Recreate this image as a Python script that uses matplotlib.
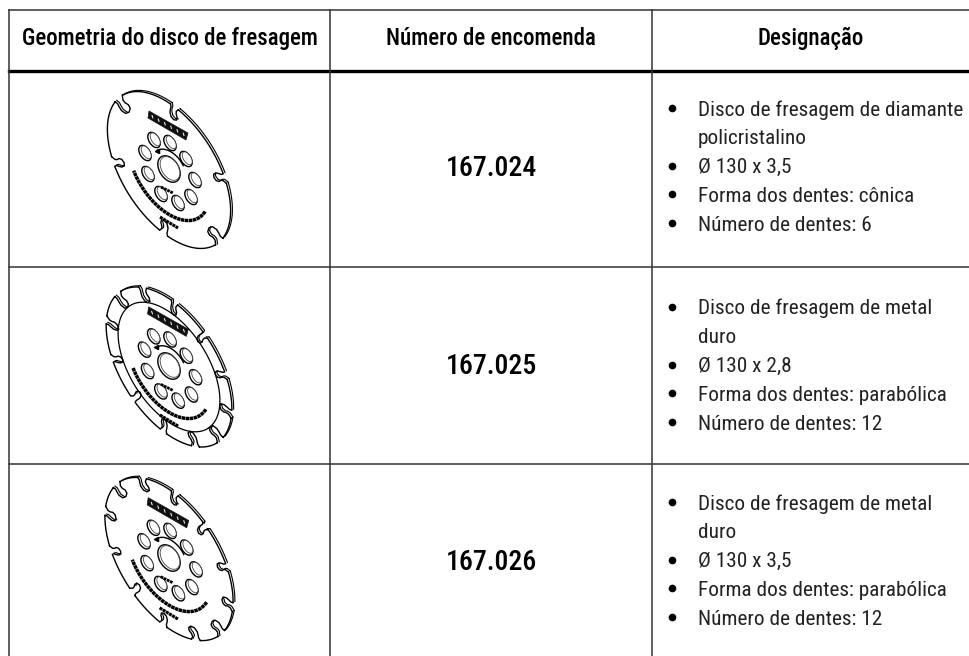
#!/usr/bin/env python3
import numpy as np
import matplotlib
matplotlib.use('Agg')
import matplotlib.pyplot as plt
from matplotlib.patches import Ellipse, Polygon

## Table content
headers = ['Geometria do disco de fresagem', 'Número de encomenda', 'Designação']
order_numbers = ['167.024', '167.025', '167.026']
designations = [
    ['Disco de fresagem de diamante\npolicristalino', 'Ø 130 x 3,5',
     'Forma dos dentes: cônica', 'Número de dentes: 6'],
    ['Disco de fresagem de metal\nduro', 'Ø 130 x 2,8',
     'Forma dos dentes: parabólica', 'Número de dentes: 12'],
    ['Disco de fresagem de metal\nduro', 'Ø 130 x 3,5',
     'Forma dos dentes: parabólica', 'Número de dentes: 12'],
]

## Layout, in pixels of the 970x656 picture
col_x = [9.5, 330.5, 652.5]
top_y = 10
header_y = 70.5
row_lines = [267, 464]
header_baseline = 45
number_baseline = [176, 374, 570]
first_line_y = [108, 307, 502]
line_step = 28.8
baseline_drop = 7.5
line_color = '#333333'
font = ['Roboto Condensed', 'Liberation Sans', 'DejaVu Sans']

## Disc drawings: (center x, center y, scale, number of notches, first
## notch angle, notch depth, notch half width, inner ring radius)
discs = [
    (169, 170, 1.00, 6, -125, 0.20, 5.0, None),
    (169, 367, 1.02, 12, -125, 0.19, 4.0, 0.81),
    (169, 559, 1.04, 12, -125, 0.17, 4.5, None),
]
semi_major = 88
semi_minor = 47
tilt = np.deg2rad(57.6)
u = np.array([np.cos(tilt), np.sin(tilt)])
v = np.array([-np.sin(tilt), np.cos(tilt)])
hole_offsets = [(-15, -30), (1, -27), (17, -11), (26, 10), (22, 27),
                (9, 33), (-8, 24), (-21, 4), (-24, -17)]
# Hooked notch: across the slot (-1..1), into the disc (0..1)
notch_across = np.array([-1, -.8, -.9, -.95, -.6, .1, .75, .85, .55, .5, .8, 1])
notch_into = np.array([0, .2, .4, .65, .92, 1, .88, .65, .45, .25, .1, 0])

fig = plt.figure(figsize=(9.7, 6.56), dpi=100)
ax = fig.add_axes([0, 0, 1, 1])
ax.set_xlim(0, 970)
ax.set_ylim(656, 0)
ax.axis('off')

def to_pixels(cx, cy, scale, q_u, q_v):
    # Disc coordinates (unit circle) to picture coordinates
    q_u = np.asarray(q_u) * semi_major * scale
    q_v = np.asarray(q_v) * semi_minor * scale
    return cx + q_u * u[0] + q_v * v[0], cy + q_u * u[1] + q_v * v[1]

def outline(cx, cy, scale, n_notches, first_angle, depth, half_width):
    # Rim of the disc with notches cut into it, in picture coordinates
    xs, ys = [], []
    step = 2 * np.pi / n_notches
    for i in range(n_notches):
        t0 = np.deg2rad(first_angle) + i * step
        t1 = t0 + step
        qx, qy = to_pixels(cx, cy, scale, np.cos(t1), np.sin(t1))
        # Half width of the slot as an angle, from the local rim speed
        speed0 = np.hypot(semi_major * np.sin(t0), semi_minor * np.cos(t0)) * scale
        speed1 = np.hypot(semi_major * np.sin(t1), semi_minor * np.cos(t1)) * scale
        t_rim = np.linspace(t0 + half_width / speed0, t1 - half_width / speed1, 40)
        x_rim, y_rim = to_pixels(cx, cy, scale, np.cos(t_rim), np.sin(t_rim))
        xs += list(x_rim)
        ys += list(y_rim)
        # The slot at the end of this tooth
        radius = np.hypot(qx - cx, qy - cy)
        nx, ny = (cx - qx) / radius, (cy - qy) / radius
        tx = -semi_major * np.sin(t1) * u[0] + semi_minor * np.cos(t1) * v[0]
        ty = -semi_major * np.sin(t1) * u[1] + semi_minor * np.cos(t1) * v[1]
        tx, ty = tx / np.hypot(tx, ty), ty / np.hypot(tx, ty)
        d = max(depth * radius, 10)
        xs += list(qx + notch_across * half_width * tx + notch_into * d * nx)
        ys += list(qy + notch_across * half_width * ty + notch_into * d * ny)
    return np.array(xs + xs[:1]), np.array(ys + ys[:1])

def draw_disc(cx, cy, scale, n_notches, first_angle, depth, half_width, ring):
    x, y = outline(cx, cy, scale, n_notches, first_angle, depth, half_width)
    ax.plot(x, y, color='black', lw=1.0, solid_joinstyle='round')
    # Thickness of the blade: same rim, shifted, only on the far side
    dx, dy = 1.8, -1.2
    nx = np.gradient(y)
    ny = -np.gradient(x)
    if (nx * (x - cx) + ny * (y - cy)).sum() < 0:
        nx, ny = -nx, -ny
    keep = nx * dx + ny * dy > 0
    ax.plot(np.where(keep, x + dx, np.nan), np.where(keep, y + dy, np.nan),
            color='black', lw=0.8)
    if ring is not None:
        t = np.linspace(0, 2 * np.pi, 200)
        xr, yr = to_pixels(cx, cy, scale, ring * np.cos(t), ring * np.sin(t))
        ax.plot(xr, yr, color='black', lw=0.9)
    angle = np.rad2deg(tilt)
    # Cooling holes
    for ox, oy in hole_offsets:
        hx, hy = cx + ox * scale, cy + oy * scale
        ax.add_patch(Ellipse((hx, hy), 17, 10, angle=angle, fc='white',
                             ec='black', lw=1.0))
        ax.add_patch(Ellipse((hx + 1.2, hy - 0.7), 14.5, 7.5, angle=angle,
                             fc='white', ec='#444444', lw=0.6))
    # Center bore with its rotation arrow
    ax.add_patch(Ellipse((cx, cy - 1), 29, 19, angle=angle, fc='white',
                         ec='black', lw=1.0))
    ax.add_patch(Ellipse((cx + 1, cy - 1.5), 26, 16.5, angle=angle,
                         fc='white', ec='#444444', lw=0.6))
    t = np.deg2rad(np.linspace(-180, -80, 30))
    xa, ya = to_pixels(cx, cy, scale, 0.26 * np.cos(t), 0.31 * np.sin(t))
    ax.plot(xa, ya, color='black', lw=1.0)
    ax.plot(xa[0], ya[0], marker='<', ms=3, color='black')
    # Dark label band with light marks
    corners = [(-20, -59), (19, -37), (17, -30), (-21, -52)]
    band = [(cx + a * scale, cy + b * scale) for a, b in corners]
    ax.add_patch(Polygon(band, fc='#111111', ec='#111111', lw=0.5))
    for f in np.linspace(0.1, 0.9, 6):
        mx = cx + (-20.5 + 39 * f) * scale
        my = cy + (-55.5 + 22 * f) * scale
        ax.plot([mx - 0.4, mx + 0.4], [my - 1.2, my + 1.2],
                color='white', lw=0.7)
    # Printed lettering on the blade, too small to read
    t = np.deg2rad(np.linspace(-15, 109, 60))
    xt, yt = to_pixels(cx, cy, scale, 0.64 * np.cos(t), 0.68 * np.sin(t))
    ax.plot(xt, yt, color='black', lw=2.5, ls=(0, (1.0, 0.15)))
    ax.plot([cx - 9 * scale, cx + 9 * scale],
            [cy + 47 * scale, cy + 58 * scale],
            color='black', lw=2.2, ls=(0, (1.0, 0.2)))
    ax.plot([cx - 8 * scale, cx + 4 * scale],
            [cy + 17 * scale, cy + 23 * scale],
            color='black', lw=2.0, ls=(0, (1.0, 0.25)))

## Table grid
ax.plot([col_x[0], 970], [top_y, top_y], color=line_color, lw=1.1)
ax.plot([col_x[0], 970], [header_y, header_y], color='black', lw=2.4)
for y in row_lines:
    ax.plot([col_x[0], 970], [y, y], color=line_color, lw=1.1)
for x in col_x:
    ax.plot([x, x], [top_y, 656], color=line_color, lw=1.1)

## Header row
centers = [170, 491, 811]
for x, label in zip(centers, headers):
    ax.text(x, header_baseline, label, family=font, fontsize=16.5,
            fontweight=500, ha='center', va='baseline', color='black')

## Body rows
for i in range(3):
    draw_disc(*discs[i])
    ax.text(491, number_baseline[i], order_numbers[i], family=font, fontsize=20,
            fontweight=500, ha='center', va='baseline', color='black')
    y = first_line_y[i]
    for item in designations[i]:
        ax.plot(672.5, y, marker='o', ms=5.5, color='black', mew=0)
        for line in item.split('\n'):
            ax.text(698, y + baseline_drop, line, family=font, fontsize=15.3,
                    fontweight=400, ha='left', va='baseline', color='#222222')
            y += line_step

fig.savefig('out.png', dpi=100)
